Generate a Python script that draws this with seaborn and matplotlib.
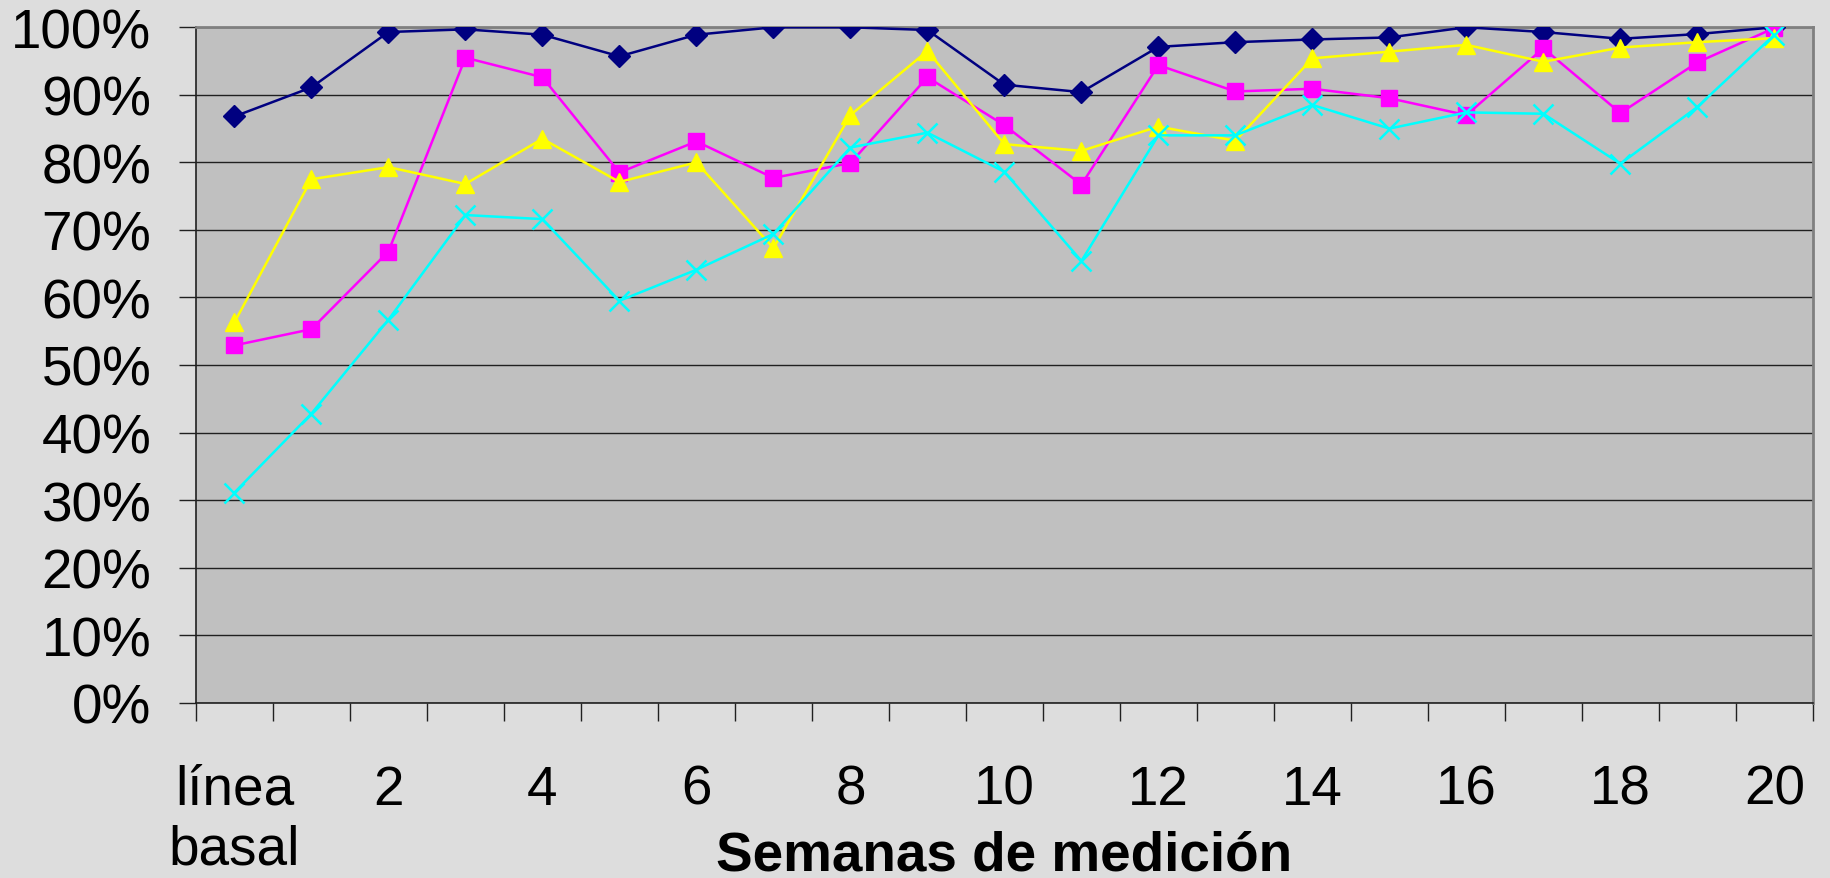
import matplotlib
matplotlib.use("Agg")
import matplotlib.pyplot as plt
import seaborn as sns
import numpy as np
import pandas as pd

# categories on the x axis (línea basal + weeks 1..20)
semanas = ["línea\nbasal"] + [str(i) for i in range(1, 21)]

# series values (percent)
serie_azul = [86.8, 91.1, 99.3, 99.7, 98.9, 95.7, 98.9, 100.0, 100.0, 99.6, 91.5,
              90.4, 97.1, 97.8, 98.2, 98.5, 100.0, 99.3, 98.3, 99.0, 100.0]
serie_magenta = [52.9, 55.3, 66.8, 95.5, 92.6, 78.5, 83.1, 77.7, 79.9, 92.6, 85.5,
                 76.7, 94.4, 90.5, 90.9, 89.5, 87.0, 96.9, 87.3, 94.8, 99.9]
serie_amarilla = [56.3, 77.5, 79.3, 76.8, 83.5, 77.1, 80.0, 67.3, 87.0, 96.5, 82.7,
                  81.7, 85.3, 83.2, 95.4, 96.4, 97.4, 94.9, 97.0, 97.8, 98.4]
serie_cian = [31.1, 42.8, 56.7, 72.2, 71.6, 59.5, 64.1, 69.4, 82.2, 84.4, 78.6,
              65.4, 84.0, 84.0, 88.5, 85.0, 87.4, 87.2, 79.8, 88.2, 98.9]

yticks = [0, 10, 20, 30, 40, 50, 60, 70, 80, 90, 100]

sns.set_style("white")
plt.rcParams['font.family'] = ['Liberation Sans', 'DejaVu Sans']
plt.rcParams['text.color'] = 'black'
plt.rcParams['xtick.color'] = 'black'
plt.rcParams['ytick.color'] = 'black'
plt.rcParams['axes.labelcolor'] = 'black'

fig = plt.figure(figsize=(18.31, 8.79), dpi=100, facecolor='#DDDDDD')
ax = fig.add_axes([0.1070, 0.1995, 0.8831, 0.7683])
ax.set_facecolor('#C0C0C0')

pos = np.arange(len(semanas))
estilos = [
    (serie_azul, '#000080', 'D', 11, 1.0),
    (serie_magenta, '#FF00FF', 's', 11, 1.0),
    (serie_amarilla, '#FFFF00', '^', 13, 1.0),
    (serie_cian, '#00FFFF', 'x', 14, 1.8),
]
for vals, col, mk, ms, mew in estilos:
    df = pd.DataFrame({'x': pos, 'y': np.array(vals) / 100})
    sns.lineplot(data=df, x='x', y='y', ax=ax, color=col, marker=mk,
                 markersize=ms, markeredgecolor=col, markerfacecolor=col,
                 markeredgewidth=mew, linewidth=1.8, zorder=3)

ax.set_xlim(-0.5, len(semanas) - 0.5)
ax.set_ylim(0, 1)

# y axis
ax.set_yticks([v / 100 for v in yticks])
ax.set_yticklabels([f"{v}%" for v in yticks])
ax.grid(axis='y', color='#202020', linewidth=1.0)
ax.grid(axis='x', visible=False)
ax.tick_params(axis='y', direction='out', length=12, width=1, color='#202020',
               pad=20, labelsize=39.5, left=True, labelcolor='black')

# x axis: tick marks between categories, labels every other week
ax.set_xticks(pos[::2])
ax.set_xticklabels(semanas[::2])
ax.set_xticks(np.arange(-0.5, len(semanas), 1), minor=True)
ax.tick_params(axis='x', which='major', length=0, pad=44, labelsize=39.5,
               labelcolor='black')
ax.tick_params(axis='x', which='minor', direction='out', length=13, width=1,
               color='#202020', bottom=True)
for lab in ax.get_xticklabels():
    lab.set_linespacing(1.2)

ax.set_xlabel("Semanas de medición", fontsize=39.5, fontweight='bold', color='black')
ax.xaxis.set_label_coords(0.5, -0.2464)
ax.xaxis.label.set_va('baseline')
ax.set_ylabel("")

for side in ['top', 'right']:
    ax.spines[side].set_color('#808080')
    ax.spines[side].set_linewidth(2)
for side in ['left', 'bottom']:
    ax.spines[side].set_color('#202020')
    ax.spines[side].set_linewidth(1.2)

fig.savefig("out.png", dpi=100, facecolor=fig.get_facecolor())
